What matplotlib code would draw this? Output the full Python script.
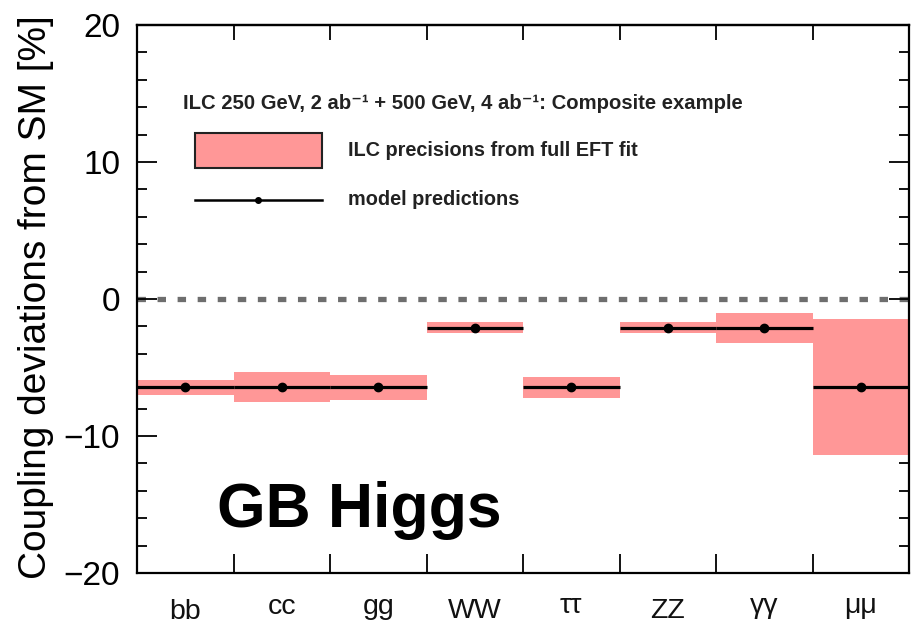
import matplotlib
matplotlib.use("Agg")
import matplotlib.pyplot as plt
import matplotlib.transforms as mtransforms
from matplotlib.patches import Rectangle
from matplotlib.lines import Line2D
from matplotlib.textpath import TextPath
from matplotlib.font_manager import FontProperties
from matplotlib.ticker import MultipleLocator, FixedLocator, NullFormatter
import numpy as np

categories = ['bb', 'cc', 'gg', 'WW', 'ττ', 'ZZ', 'γγ', 'μμ']
model_pred = [-6.4, -6.4, -6.4, -2.1, -6.4, -2.1, -2.1, -6.4]
band_low = [-7.0, -7.55, -7.35, -2.5, -7.2, -2.5, -3.2, -11.4]
band_high = [-5.9, -5.35, -5.55, -1.7, -5.7, -1.7, -1.05, -1.45]

plt.rcParams['font.family'] = ['Liberation Sans', 'DejaVu Sans']

band_color = '#ff9797'

fig = plt.figure(figsize=(9.11, 6.25), dpi=100)
ax = fig.add_axes([137/911, 52/625, 772/911, 548/625])

x = np.arange(len(categories))
lo = np.array(band_low)
hi = np.array(band_high)
ax.bar(x, hi - lo, bottom=lo, width=1.0, color=band_color, edgecolor='none', zorder=2)
ax.hlines(model_pred, x - 0.5, x + 0.5, colors='black', linewidth=2.3, zorder=3)
ax.plot(x, model_pred, 'o', color='black', markersize=6, zorder=4)

ax.axhline(0, color='#6e6e6e', linewidth=3.8, linestyle=(0, (1.6, 2.2)), zorder=1)

ax.set_xlim(-0.5, len(categories) - 0.5)
ax.set_ylim(-20, 20)

# x ticks at bin boundaries; bottom longer than top
ax.xaxis.set_major_locator(FixedLocator(x[:-1] + 0.5))
ax.xaxis.set_major_formatter(NullFormatter())
ax.tick_params(axis='x', which='major', direction='in', length=14, width=1.3, top=False, bottom=True)
sec = ax.secondary_xaxis('top')
sec.xaxis.set_major_locator(FixedLocator(x[:-1] + 0.5))
sec.xaxis.set_major_formatter(NullFormatter())
sec.tick_params(axis='x', direction='in', length=11, width=1.3)
sec.spines['top'].set_linewidth(1.6)

# category labels, aligned on the top of their ink
label_fs = 20.5
fp = FontProperties(family='Liberation Sans', size=label_fs)
gap_pts = 18.3
base = ax.get_xaxis_transform()
for xi, lab in zip(x, categories):
    tp = TextPath((0, 0), lab, size=label_fs, prop=fp)
    ink_top = tp.get_extents().y1
    tr = mtransforms.offset_copy(base, fig=fig, x=0, y=-(gap_pts + ink_top), units='points')
    ax.text(xi, 0, lab, transform=tr, ha='center', va='baseline', fontsize=label_fs,
            fontfamily='Liberation Sans', color='#111111')

ax.yaxis.set_major_locator(MultipleLocator(10))
ax.yaxis.set_minor_locator(MultipleLocator(2))
ax.tick_params(axis='y', which='major', direction='in', length=14.5, width=1.3, left=True, right=True, labelsize=24, pad=12)
ax.tick_params(axis='y', which='minor', direction='in', length=7, width=1.3, left=True, right=True)

for s in ax.spines.values():
    s.set_linewidth(1.6)

ax.set_ylabel('Coupling deviations from SM [%]', fontsize=28)
ax.yaxis.set_label_coords(-0.107, 0.504)

# annotation / legend
hdr_fs = 14.3
ax.text(0.0596, 0.857, 'ILC 250 GeV, 2 ab⁻¹ + 500 GeV, 4 ab⁻¹: Composite example',
        transform=ax.transAxes, fontsize=14.6, fontweight='bold', va='center', ha='left', color='#222222')
ax.add_patch(Rectangle((0.0751, 0.739), 0.1645, 0.064, transform=ax.transAxes,
                       facecolor=band_color, edgecolor='#222222', linewidth=1.5, zorder=5))
ax.text(0.2733, 0.771, 'ILC precisions from full EFT fit', transform=ax.transAxes,
        fontsize=hdr_fs, fontweight='bold', va='center', ha='left', color='#222222')
ax.add_line(Line2D([0.0751, 0.2396], [0.681, 0.681], transform=ax.transAxes, color='black', linewidth=1.8))
ax.add_line(Line2D([0.1567], [0.681], transform=ax.transAxes, marker='o', color='black', markersize=4))
ax.text(0.2733, 0.681, 'model predictions', transform=ax.transAxes,
        fontsize=hdr_fs, fontweight='bold', va='center', ha='left', color='#222222')

ax.text(0.104, 0.0839, 'GB Higgs', transform=ax.transAxes, fontsize=45, fontweight='bold',
        va='baseline', ha='left', color='black')

fig.savefig('out.png', dpi=100)
